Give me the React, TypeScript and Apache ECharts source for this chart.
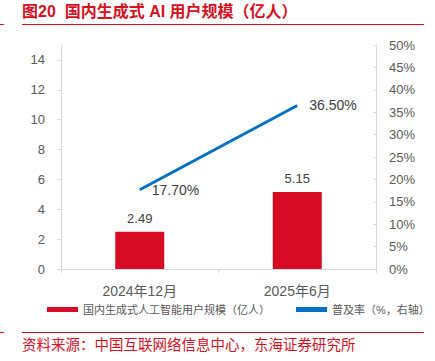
import React, { useEffect, useRef } from "react";
import * as echarts from "echarts";

const categories = ["2024年12月", "2025年6月"];
const users = [2.49, 5.15];
const penetration = [17.7, 36.5];
const leftTicks = [0, 2, 4, 6, 8, 10, 12, 14];
const barName = "国内生成式人工智能用户规模（亿人）";
const lineName = "普及率（%，右轴）";
const titleText = "图20  国内生成式 AI 用户规模（亿人）";
const sourceText = "资料来源：中国互联网络信息中心，东海证券研究所";

const RED = "#D7101F";
const BAR_RED = "#D50C24";
const BLUE = "#0070C0";
const GRAY = "#595959";
const AXIS = "#D9D9D9";
const FONT = "'Liberation Sans', 'Noto Sans CJK SC', sans-serif";

export default function App() {
  const ref = useRef<HTMLDivElement>(null);
  useEffect(() => {
    document.body.style.margin = "0";
    const chart = echarts.init(ref.current!, null, { renderer: "svg" });
    chart.setOption({
      animation: false,
      textStyle: { fontFamily: FONT },
      grid: { left: 61, right: 59, top: 45, bottom: 92, containLabel: false },
      legend: {
        left: 47,
        top: 304,
        padding: 0,
        itemGap: 26,
        itemWidth: 31,
        itemHeight: 5,
        textStyle: { fontSize: 11, color: GRAY, fontFamily: FONT },
        data: [
          { name: barName, icon: "rect" },
          { name: lineName, icon: "rect" },
        ],
      },
      xAxis: {
        type: "category",
        data: categories,
        axisLine: { lineStyle: { color: AXIS } },
        axisTick: { show: true, length: 4, lineStyle: { color: AXIS } },
        axisLabel: { fontSize: 14, color: GRAY, margin: 15, fontFamily: FONT },
      },
      yAxis: [
        {
          type: "value",
          min: 0,
          max: 15,
          interval: 2,
          splitLine: { show: false },
          axisLine: { show: true, lineStyle: { color: AXIS } },
          axisTick: { show: true, length: 4, customValues: leftTicks, lineStyle: { color: AXIS } },
          axisLabel: { fontSize: 13, color: GRAY, margin: 16, customValues: leftTicks, fontFamily: FONT },
        },
        {
          type: "value",
          min: 0,
          max: 50,
          interval: 5,
          position: "right",
          splitLine: { show: false },
          axisLine: { show: true, lineStyle: { color: AXIS } },
          axisTick: { show: true, inside: true, length: 3, lineStyle: { color: AXIS } },
          axisLabel: { fontSize: 13, color: GRAY, margin: 13, formatter: "{value}%", fontFamily: FONT },
        },
      ],
      series: [
        {
          name: barName,
          type: "bar",
          data: users,
          barWidth: 49,
          itemStyle: { color: BAR_RED },
          label: {
            show: true,
            position: "top",
            distance: 7,
            fontSize: 13,
            color: "#404040",
            fontFamily: FONT,
            formatter: (p: any) => p.value.toFixed(2),
          },
        },
        {
          name: lineName,
          type: "line",
          yAxisIndex: 1,
          data: penetration,
          showSymbol: true,
          symbol: "circle",
          symbolSize: 0,
          lineStyle: { color: BLUE, width: 3 },
          itemStyle: { color: BLUE },
          label: {
            show: true,
            position: "right",
            distance: 12,
            fontSize: 14,
            color: "#404040",
            fontFamily: FONT,
            formatter: (p: any) => p.value.toFixed(2) + "%",
          },
        },
      ],
      graphic: [
        {
          type: "text",
          left: 22,
          top: 3,
          style: { text: titleText, fontSize: 16, fontWeight: "bold", fill: RED, fontFamily: FONT },
        },
        { type: "line", shape: { x1: 0, y1: 24.5, x2: 4, y2: 24.5 }, style: { stroke: RED, lineWidth: 1 } },
        { type: "line", shape: { x1: 22, y1: 24.5, x2: 424, y2: 24.5 }, style: { stroke: RED, lineWidth: 1 } },
        { type: "line", shape: { x1: 0, y1: 332.5, x2: 4, y2: 332.5 }, style: { stroke: RED, lineWidth: 1 } },
        { type: "line", shape: { x1: 22, y1: 332.5, x2: 424, y2: 332.5 }, style: { stroke: RED, lineWidth: 1 } },
        {
          type: "text",
          left: 22,
          top: 338,
          style: { text: sourceText, fontSize: 14.5, fill: RED, fontFamily: FONT },
        },
      ],
    });
    return () => chart.dispose();
  }, []);
  return <div ref={ref} style={{ width: 435, height: 361 }} />;
}
